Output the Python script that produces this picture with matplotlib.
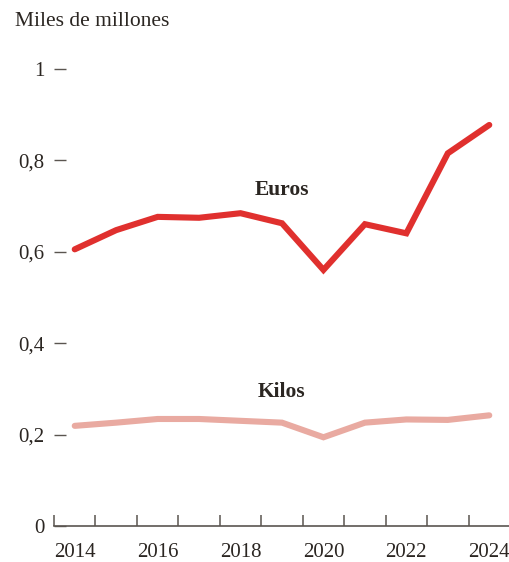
import matplotlib
matplotlib.use("Agg")
import matplotlib.pyplot as plt
from matplotlib.ticker import FixedLocator, FuncFormatter

years = [2014, 2015, 2016, 2017, 2018, 2019, 2020, 2021, 2022, 2023, 2024]
euros = [0.605, 0.647, 0.676, 0.674, 0.684, 0.662, 0.560, 0.660, 0.640, 0.815, 0.877]
kilos = [0.219, 0.226, 0.234, 0.234, 0.230, 0.226, 0.194, 0.226, 0.233, 0.232, 0.242]
y_ticks = [0, 0.2, 0.4, 0.6, 0.8, 1]
label_years = [2014, 2016, 2018, 2020, 2022, 2024]

TEXT = "#2b2622"
AXIS = "#5a5550"
RED = "#e0302e"
PINK = "#e9aaa1"

plt.rcParams["font.family"] = ["Liberation Serif", "DejaVu Serif"]

fig = plt.figure(figsize=(5.10, 5.62), dpi=100)
ax = fig.add_axes([54 / 510, 36 / 562, 456 / 510, 457.3 / 562])

ax.plot(years, kilos, color=PINK, lw=4.4, solid_capstyle="round", solid_joinstyle="miter")
ax.plot(years, euros, color=RED, lw=4.4, solid_capstyle="round", solid_joinstyle="miter")

ax.text(2019, 0.735, "Euros", ha="center", va="center", fontsize=15.5, fontweight="bold", color=TEXT)
ax.text(2019, 0.293, "Kilos", ha="center", va="center", fontsize=15.5, fontweight="bold", color=TEXT)

ax.set_xlim(2013.5, 2024.5)
ax.set_ylim(0, 1)

for side in ["top", "right", "left"]:
    ax.spines[side].set_visible(False)
ax.spines["bottom"].set_color(AXIS)
ax.spines["bottom"].set_linewidth(1.2)

# year boundaries get the tick marks, year centres get the labels
ax.xaxis.set_major_locator(FixedLocator([y + 0.5 for y in range(2013, 2025)]))
ax.xaxis.set_minor_locator(FixedLocator(label_years))
ax.xaxis.set_major_formatter(FuncFormatter(lambda v, p: ""))
ax.xaxis.set_minor_formatter(FuncFormatter(lambda v, p: f"{int(v)}"))
ax.tick_params(axis="x", which="major", direction="in", length=8, width=1.1, color=AXIS)
ax.tick_params(axis="x", which="minor", length=0, pad=12.5, labelsize=15, labelcolor=TEXT)

ax.yaxis.set_major_locator(FixedLocator(y_ticks))
ax.yaxis.set_major_formatter(FuncFormatter(lambda v, p: "0" if v == 0 else ("1" if v == 1 else f"{v:.1f}".replace(".", ","))))
ax.tick_params(axis="y", which="major", left=True, direction="in", length=8.5, width=1.0,
               color=AXIS, pad=7, labelsize=15, labelcolor=TEXT)

fig.text(15 / 510, 1 - 22 / 562, "Miles de millones", ha="left", va="center", fontsize=15.5, color=TEXT)

fig.savefig("out.png", dpi=100)
